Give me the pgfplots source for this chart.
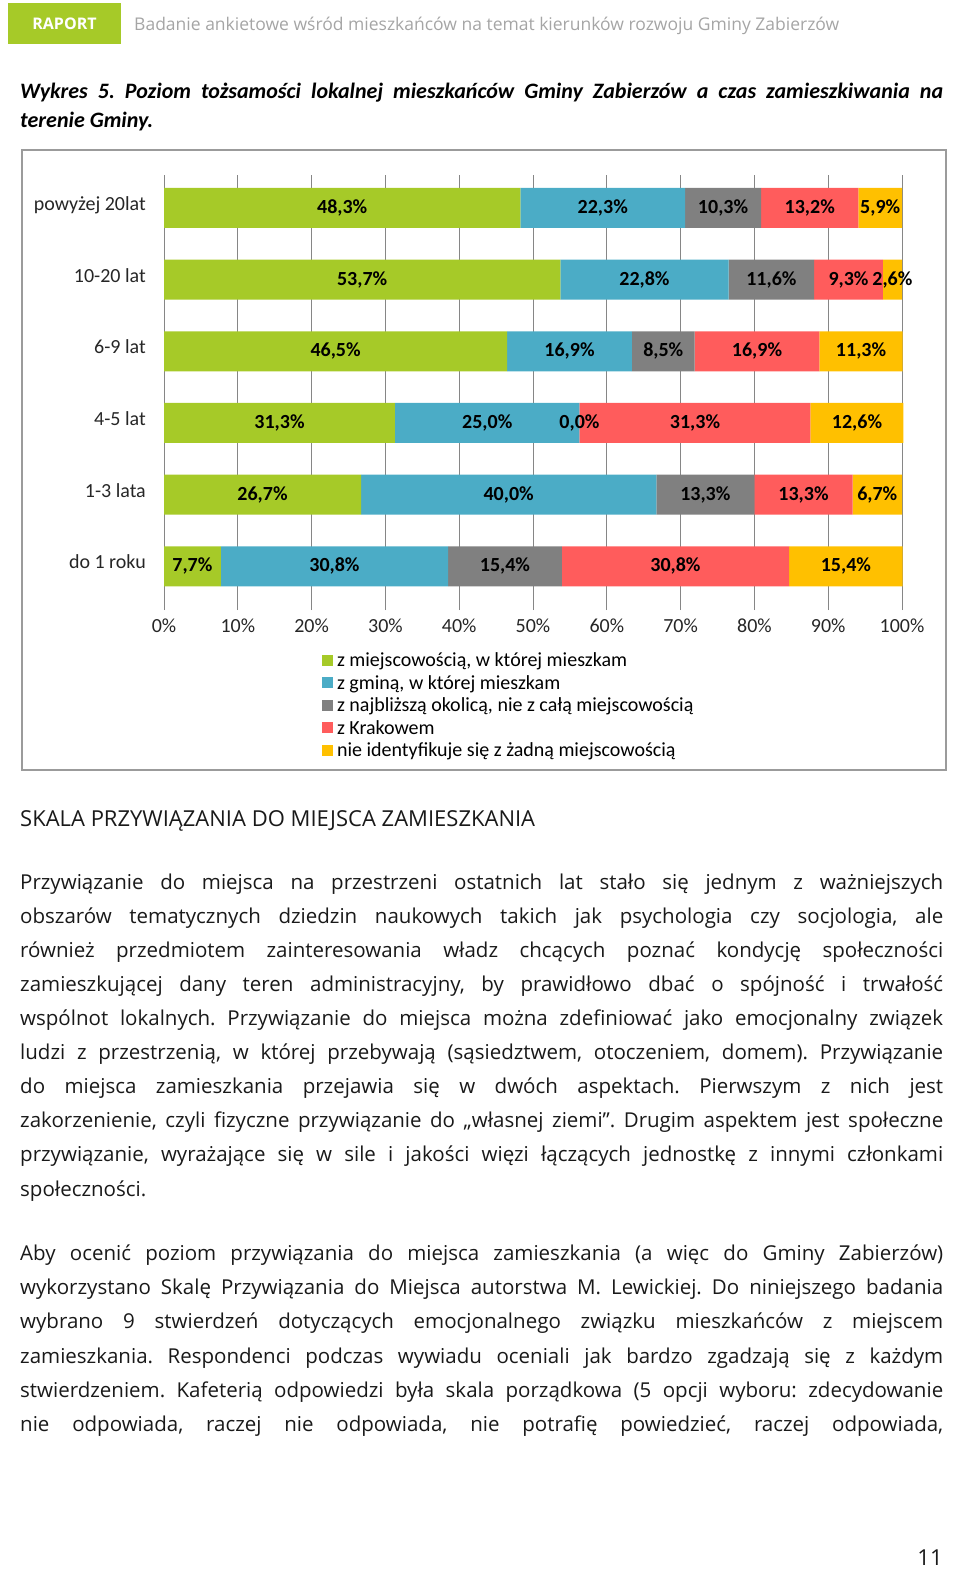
\documentclass[border=0pt]{standalone}
\usepackage{pgfplots}
\usepackage{pgfplotstable}
\pgfplotsset{compat=1.18}
\usepackage{fontspec}
\setmainfont{Open Sans}
\newfontfamily\calibri{Carlito}
\frenchspacing
\definecolor{cgreen}{RGB}{166,202,40}
\definecolor{cblue}{RGB}{75,172,198}
\definecolor{cgray}{RGB}{128,128,128}
\definecolor{cred}{RGB}{255,92,92}
\definecolor{cyellow}{RGB}{255,192,0}
\definecolor{gridgray}{RGB}{134,134,134}
\definecolor{framegray}{RGB}{155,155,155}
\definecolor{headgray}{RGB}{165,165,165}
\definecolor{bodytext}{RGB}{25,25,25}

% pos: 0 = do 1 roku ... 5 = powyżej 20 lat
\pgfplotstableread{
pos g    b    k    r    o
0   7.7  30.8 15.4 30.8 15.4
1   26.7 40.0 13.3 13.3 6.7
2   31.3 25.0 0.0  31.3 12.6
3   46.5 16.9 8.5  16.9 11.3
4   53.7 22.8 11.6 9.3  2.6
5   48.3 22.3 10.3 13.2 5.9
}\datatable

\pgfplotsset{
  chartbase/.style={
    at={(164pt,-610pt)}, anchor=south west,
    scale only axis, width=738pt, height=435pt,
    xbar stacked, bar width=40pt,
    xmin=0, xmax=100, ymin=-0.61, ymax=5.46,
    clip=false,
  },
}

% justified line / plain line of text, #1 = baseline in px from the top
\newcommand\jl[2]{\node[anchor=base west,inner sep=0pt] at (20pt,-#1pt) {\makebox[923pt][s]{#2}};}
\newcommand\tl[2]{\node[anchor=base west,inner sep=0pt] at (20pt,-#1pt) {#2};}

\begin{document}
\begin{tikzpicture}

% header
\fill[cgreen] (8pt,-3pt) rectangle (121pt,-44pt);
\node[text=white,font=\fontsize{16}{19}\selectfont\bfseries] at (64.5pt,-23.5pt) {RAPORT};
\node[anchor=base west,inner sep=0pt,text=headgray,font=\fontsize{17.5}{20}\selectfont]
  at (134pt,-30pt) {Badanie ankietowe wśród mieszkańców na temat kierunków rozwoju Gminy Zabierzów};

% title
\begin{scope}[font=\calibri\bfseries\itshape\fontsize{22}{26}\selectfont]
\jl{98}{Wykres 5. Poziom tożsamości lokalnej mieszkańców Gminy Zabierzów a czas zamieszkiwania na}
\tl{127}{terenie Gminy.}
\end{scope}

% chart frame
\draw[framegray,line width=1.8pt] (22pt,-150pt) rectangle (946pt,-770pt);

% bars, grid, ticks, legend
\begin{axis}[
  chartbase,
  axis line style={draw=none},
  major tick length=0pt,
  /pgf/number format/assume math mode=true,
  xtick={0,10,...,100},
  xticklabel={\pgfmathprintnumber{\tick}\%},
  xticklabel style={font=\calibri\fontsize{20}{22}\selectfont, text=black!85, anchor=mid, yshift=-20pt, inner sep=0pt},
  ytick={0,1,2,3,4,5},
  yticklabels={do 1 roku,1-3 lata,4-5 lat,6-9 lat,10-20 lat,powyżej 20lat},
  yticklabel style={font=\calibri\fontsize{20}{22}\selectfont, text=black!85, anchor=mid east, xshift=-18pt, inner sep=0pt},
  xmajorgrids,
  grid style={draw=gridgray, line width=0.9pt},
  legend style={at={(0.2141,-0.101)}, anchor=north west, draw=none, fill=none,
    inner sep=0pt, outer sep=0pt, row sep=0pt,
    font=\calibri\fontsize{20}{22}\selectfont,
    nodes={inner sep=0pt, text height=13pt, text depth=9.5pt},
    /tikz/every odd column/.style={column sep=4pt}},
  legend cell align=left,
  legend image code/.code={\draw[#1,draw=none] (0pt,-0.5pt) rectangle (11pt,10.5pt);},
]
\addplot[fill=cgreen, draw=none] table[x=g, y=pos] {\datatable};
\addplot[fill=cblue, draw=none] table[x=b, y=pos] {\datatable};
\addplot[fill=cgray, draw=none] table[x=k, y=pos] {\datatable};
\addplot[fill=cred, draw=none] table[x=r, y=pos] {\datatable};
\addplot[fill=cyellow, draw=none] table[x=o, y=pos] {\datatable};
\legend{{z miejscowością, w której mieszkam},{z gminą, w której mieszkam},{z najbliższą okolicą, nie z całą miejscowością},{z Krakowem},{nie identyfikuje się z żadną miejscowością}}
\end{axis}

% same bars again, invisible, carrying the value labels so they lie on top of every bar
\begin{axis}[
  chartbase,
  hide axis,
  point meta=explicit,
  /pgf/number format/assume math mode=true,
  nodes near coords={\pgfmathprintnumber[fixed,fixed zerofill,precision=1,use comma]{\pgfplotspointmeta}\%},
  every node near coord/.append style={font=\calibri\bfseries\fontsize{20}{22}\selectfont, text=black, anchor=center},
]
\addplot[draw=none, fill=none] table[x=g, y=pos, meta=g] {\datatable};
\addplot[draw=none, fill=none] table[x=b, y=pos, meta=b] {\datatable};
% a bar of length 0 gets no label, so the gray one is given a hair of length
\addplot[draw=none, fill=none] table[x expr=\thisrow{k}+0.001, y=pos, meta=k] {\datatable};
\addplot[draw=none, fill=none] table[x=r, y=pos, meta=r] {\datatable};
\addplot[draw=none, fill=none] table[x=o, y=pos, meta=o] {\datatable};
\end{axis}

% body text
\begin{scope}[text=bodytext]
\node[anchor=base west,inner sep=0pt,font=\fontsize{22}{26}\selectfont] at (20pt,-826pt) {SKALA PRZYWIĄZANIA DO MIEJSCA ZAMIESZKANIA};
\begin{scope}[font=\fontsize{20.5}{24}\selectfont]
\jl{889}{Przywiązanie do miejsca na przestrzeni ostatnich lat stało się jednym z ważniejszych}
\jl{923}{obszarów tematycznych dziedzin naukowych takich jak psychologia czy socjologia, ale}
\jl{957}{również przedmiotem zainteresowania władz chcących poznać kondycję społeczności}
\jl{991}{zamieszkującej dany teren administracyjny, by prawidłowo dbać o spójność i trwałość}
\jl{1025}{wspólnot lokalnych. Przywiązanie do miejsca można zdefiniować jako emocjonalny związek}
\jl{1059}{ludzi z przestrzenią, w której przebywają (sąsiedztwem, otoczeniem, domem). Przywiązanie}
\jl{1093}{do miejsca zamieszkania przejawia się w dwóch aspektach. Pierwszym z nich jest}
\jl{1127}{zakorzenienie, czyli fizyczne przywiązanie do „własnej ziemi”. Drugim aspektem jest społeczne}
\jl{1161}{przywiązanie, wyrażające się w sile i jakości więzi łączących jednostkę z innymi członkami}
\tl{1196}{społeczności.}
\jl{1260}{Aby ocenić poziom przywiązania do miejsca zamieszkania (a więc do Gminy Zabierzów)}
\jl{1294}{wykorzystano Skalę Przywiązania do Miejsca autorstwa M. Lewickiej. Do niniejszego badania}
\jl{1328}{wybrano 9 stwierdzeń dotyczących emocjonalnego związku mieszkańców z miejscem}
\jl{1363}{zamieszkania. Respondenci podczas wywiadu oceniali jak bardzo zgadzają się z każdym}
\jl{1397}{stwierdzeniem. Kafeterią odpowiedzi była skala porządkowa (5 opcji wyboru: zdecydowanie}
\jl{1431}{nie odpowiada, raczej nie odpowiada, nie potrafię powiedzieć, raczej odpowiada,}
\end{scope}
\node[anchor=base,inner sep=0pt,font=\fontsize{22}{26}\selectfont] at (930pt,-1565pt) {11};
\end{scope}

\pgfresetboundingbox
\useasboundingbox (0pt,0pt) rectangle (960pt,-1590pt);
\end{tikzpicture}
\end{document}
